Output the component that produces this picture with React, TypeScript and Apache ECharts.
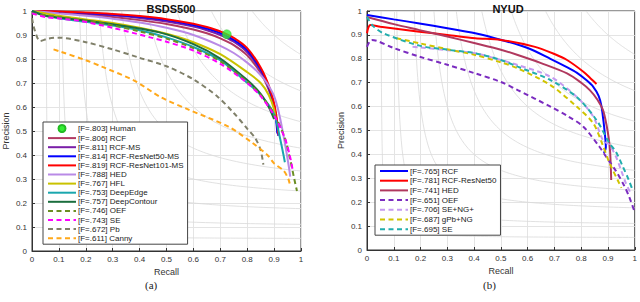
import React, { useEffect, useRef } from "react";
import * as echarts from "echarts";

// iso-F contour levels (grey guide curves)
const F_LEVELS = [0.1, 0.2, 0.3, 0.4, 0.5, 0.6, 0.7, 0.8, 0.9];

// ---------------- BSDS500 (Recall, Precision) ----------------
const bsdsHuman = [[0.724, 0.903]];
const bsdsRCF = [[0, 1], [0.1, 0.993], [0.2, 0.985], [0.3, 0.975], [0.4, 0.962], [0.5, 0.946], [0.6, 0.923], [0.65, 0.907], [0.7, 0.886], [0.75, 0.858], [0.8, 0.815], [0.85, 0.742], [0.88, 0.672], [0.9, 0.6], [0.91, 0.54], [0.915, 0.49]];
const bsdsRCFMS = [[0, 1], [0.1, 0.996], [0.2, 0.99], [0.3, 0.982], [0.4, 0.971], [0.5, 0.956], [0.6, 0.935], [0.65, 0.92], [0.7, 0.9], [0.75, 0.872], [0.8, 0.828], [0.85, 0.752], [0.88, 0.68], [0.9, 0.605], [0.91, 0.535], [0.915, 0.48]];
const bsdsRes50MS = [[0, 1], [0.1, 0.997], [0.2, 0.992], [0.3, 0.985], [0.4, 0.976], [0.5, 0.962], [0.6, 0.942], [0.65, 0.927], [0.7, 0.908], [0.75, 0.88], [0.8, 0.837], [0.85, 0.758], [0.88, 0.685], [0.9, 0.605], [0.908, 0.54], [0.912, 0.49]];
const bsdsRes101MS = [[0, 1], [0.1, 0.998], [0.2, 0.994], [0.3, 0.988], [0.4, 0.979], [0.5, 0.966], [0.6, 0.947], [0.65, 0.933], [0.7, 0.915], [0.75, 0.888], [0.8, 0.845], [0.85, 0.765], [0.88, 0.69], [0.9, 0.615], [0.91, 0.55], [0.915, 0.49]];
const bsdsHED = [[0, 1], [0.1, 0.99], [0.2, 0.98], [0.3, 0.968], [0.4, 0.952], [0.5, 0.93], [0.6, 0.9], [0.7, 0.855], [0.75, 0.825], [0.8, 0.785], [0.84, 0.745], [0.87, 0.705], [0.9, 0.645], [0.92, 0.565], [0.94, 0.45], [0.955, 0.35], [0.96, 0.31]];
const bsdsHFL = [[0, 1], [0.1, 0.98], [0.2, 0.965], [0.3, 0.95], [0.4, 0.93], [0.5, 0.905], [0.6, 0.87], [0.7, 0.82], [0.8, 0.745], [0.85, 0.7], [0.88, 0.65], [0.9, 0.59], [0.905, 0.55]];
const bsdsDeepEdge = [[0, 1], [0.05, 0.98], [0.1, 0.97], [0.2, 0.955], [0.3, 0.94], [0.4, 0.92], [0.5, 0.89], [0.6, 0.85], [0.7, 0.795], [0.79, 0.71], [0.85, 0.65], [0.9, 0.57], [0.92, 0.48], [0.935, 0.4], [0.94, 0.37]];
const bsdsDeepContour = [[0, 1], [0.05, 0.98], [0.14, 0.968], [0.3, 0.945], [0.47, 0.912], [0.6, 0.862], [0.7, 0.802], [0.8, 0.712], [0.85, 0.655], [0.88, 0.6], [0.9, 0.55]];
const bsdsOEF = [[0, 0.99], [0.1, 0.975], [0.2, 0.96], [0.3, 0.94], [0.4, 0.915], [0.5, 0.885], [0.6, 0.845], [0.7, 0.79], [0.8, 0.705], [0.85, 0.65], [0.9, 0.57], [0.94, 0.47], [0.96, 0.38], [0.975, 0.3], [0.985, 0.25]];
const bsdsSE = [[0, 0.99], [0.05, 0.975], [0.17, 0.96], [0.3, 0.93], [0.44, 0.89], [0.5, 0.872], [0.6, 0.835], [0.7, 0.78], [0.8, 0.7], [0.85, 0.645], [0.9, 0.565], [0.94, 0.47], [0.96, 0.39], [0.97, 0.33]];
const bsdsPb = [[0, 0.97], [0.01, 0.92], [0.03, 0.875], [0.06, 0.885], [0.1, 0.889], [0.2, 0.87], [0.3, 0.84], [0.4, 0.805], [0.5, 0.77], [0.6, 0.715], [0.69, 0.643], [0.75, 0.575], [0.8, 0.51], [0.83, 0.47], [0.85, 0.42], [0.86, 0.36]];
const bsdsCanny = [[0.08, 0.84], [0.107, 0.83], [0.2, 0.795], [0.26, 0.768], [0.38, 0.71], [0.48, 0.64], [0.58, 0.59], [0.73, 0.518], [0.82, 0.45], [0.875, 0.4], [0.9, 0.365], [0.935, 0.335], [0.953, 0.3], [0.96, 0.27]];

// ---------------- NYUD (Recall, Precision) ----------------
const nyudRCF = [[0, 0.983], [0.1, 0.965], [0.196, 0.948], [0.3, 0.928], [0.404, 0.907], [0.502, 0.879], [0.6, 0.845], [0.685, 0.8], [0.75, 0.763], [0.783, 0.742], [0.82, 0.71], [0.845, 0.683], [0.865, 0.645], [0.875, 0.605], [0.883, 0.54], [0.888, 0.488], [0.892, 0.43], [0.885, 0.405]];
const nyudRes50 = [[0, 0.907], [0.005, 0.93], [0.012, 0.941], [0.05, 0.934], [0.196, 0.913], [0.3, 0.9], [0.404, 0.886], [0.5, 0.879], [0.624, 0.851], [0.7, 0.82], [0.747, 0.795], [0.808, 0.746], [0.835, 0.718], [0.857, 0.695]];
const nyudHED = [[0, 0.975], [0.1, 0.945], [0.196, 0.92], [0.3, 0.893], [0.404, 0.865], [0.5, 0.838], [0.563, 0.816], [0.65, 0.782], [0.747, 0.739], [0.8, 0.7], [0.832, 0.669], [0.86, 0.63], [0.881, 0.586], [0.895, 0.52], [0.903, 0.465], [0.908, 0.41], [0.912, 0.293]];
const nyudOEF = [[0, 0.85], [0.018, 0.879], [0.1, 0.845], [0.196, 0.809], [0.3, 0.775], [0.404, 0.739], [0.5, 0.703], [0.563, 0.669], [0.685, 0.6], [0.75, 0.56], [0.808, 0.516], [0.868, 0.432], [0.893, 0.39], [0.93, 0.33], [0.96, 0.27], [0.979, 0.223], [0.997, 0.167]];
const nyudSENG = [[0.17, 0.85], [0.196, 0.848], [0.3, 0.836], [0.404, 0.823], [0.5, 0.795], [0.563, 0.774], [0.685, 0.725], [0.783, 0.641], [0.845, 0.558], [0.881, 0.46], [0.905, 0.44], [0.93, 0.39], [0.95, 0.33], [0.967, 0.279], [0.985, 0.237]];
const nyudGPbNG = [[0.11, 0.886], [0.196, 0.865], [0.3, 0.84], [0.404, 0.816], [0.5, 0.785], [0.563, 0.76], [0.685, 0.69], [0.783, 0.6], [0.845, 0.53], [0.88, 0.44], [0.906, 0.363], [0.942, 0.279], [0.95, 0.26]];
const nyudSE = [[0, 0.976], [0.02, 0.94], [0.061, 0.907], [0.196, 0.855], [0.3, 0.838], [0.404, 0.823], [0.5, 0.795], [0.563, 0.767], [0.685, 0.711], [0.783, 0.64], [0.857, 0.544], [0.906, 0.446], [0.93, 0.41], [0.955, 0.35], [0.975, 0.3], [0.992, 0.251]];

const AXIS_FONT = "Liberation Sans";

function isoCurve(f: number) {
  const r0 = f / (2 - f);
  const pts: number[][] = [];
  for (let i = 0; i <= 80; i++) {
    const t = i / 80;
    const r = r0 + (1 - r0) * t * t;
    pts.push([r, (f * r) / (2 * r - f)]);
  }
  return pts;
}

function lineSeries(name: string, data: number[][], color: string, dashed: boolean, idx: number, width = 2) {
  return {
    type: "line",
    name,
    data,
    xAxisIndex: idx,
    yAxisIndex: idx,
    symbol: "none",
    smooth: 0.3,
    z: 3,
    lineStyle: { color, width, type: dashed ? [5, 3.5] : "solid" },
    itemStyle: { color },
  };
}

function axisPair(idx: number, left: number) {
  const fmt = (v: number) => String(+v.toFixed(1));
  const common = {
    type: "value",
    min: 0,
    max: 1,
    interval: 0.1,
    gridIndex: idx,
    axisLine: { show: true, lineStyle: { color: "#333", width: 1 } },
    axisTick: { show: true, inside: true, length: 3, lineStyle: { color: "#333" } },
    splitLine: { show: true, lineStyle: { color: "#e4e4e4", width: 1 } },
    axisLabel: { formatter: fmt, fontSize: 8, fontFamily: AXIS_FONT, color: "#333" },
    nameTextStyle: { fontSize: 9, fontFamily: AXIS_FONT, color: "#333" },
  };
  return {
    x: { ...common, name: "Recall", nameLocation: "middle", nameGap: 14, axisLabel: { ...common.axisLabel, margin: 4 } },
    y: { ...common, name: "Precision", nameLocation: "middle", nameGap: left, nameRotate: 90, axisLabel: { ...common.axisLabel, margin: 5 } },
  };
}

export default function App() {
  const ref = useRef<HTMLDivElement>(null);
  useEffect(() => {
    if (!ref.current) return;
    const chart = echarts.init(ref.current, null, { renderer: "svg" });
    const a0 = axisPair(0, 22);
    const a1 = axisPair(1, 22);

    const isoSeries: any[] = [];
    [0, 1].forEach((g) => {
      F_LEVELS.forEach((f) => {
        isoSeries.push({
          type: "line",
          data: isoCurve(f),
          xAxisIndex: g,
          yAxisIndex: g,
          symbol: "none",
          silent: true,
          z: 1,
          lineStyle: { color: "#d9d9d9", width: 0.8 },
        });
      });
    });

    const left = [
      lineSeries("[F=.806] RCF", bsdsRCF, "#b23a62", false, 0),
      lineSeries("[F=.811] RCF-MS", bsdsRCFMS, "#7a1ea8", false, 0),
      lineSeries("[F=.814] RCF-ResNet50-MS", bsdsRes50MS, "#0000ff", false, 0),
      lineSeries("[F=.819] RCF-ResNet101-MS", bsdsRes101MS, "#ff0000", false, 0),
      lineSeries("[F=.788] HED", bsdsHED, "#b98ae6", false, 0),
      lineSeries("[F=.767] HFL", bsdsHFL, "#c9c200", false, 0),
      lineSeries("[F=.753] DeepEdge", bsdsDeepEdge, "#1aa7ae", false, 0),
      lineSeries("[F=.757] DeepContour", bsdsDeepContour, "#1b6e3e", false, 0),
      lineSeries("[F=.746] OEF", bsdsOEF, "#6b8e23", true, 0),
      lineSeries("[F=.743] SE", bsdsSE, "#ff00ff", true, 0),
      lineSeries("[F=.672] Pb", bsdsPb, "#80806a", true, 0),
      lineSeries("[F=.611] Canny", bsdsCanny, "#ffa81a", true, 0),
    ];
    const right = [
      lineSeries("[F=.765] RCF", nyudRCF, "#0000ff", false, 1),
      lineSeries("[F=.781] RCF-ResNet50", nyudRes50, "#ff0000", false, 1),
      lineSeries("[F=.741] HED", nyudHED, "#b0385e", false, 1),
      lineSeries("[F=.651] OEF", nyudOEF, "#7b2cc0", true, 1),
      lineSeries("[F=.706] SE+NG+", nyudSENG, "#c59af0", true, 1),
      lineSeries("[F=.687] gPb+NG", nyudGPbNG, "#d0c400", true, 1),
      lineSeries("[F=.695] SE", nyudSE, "#22adad", true, 1),
    ];
    const human = {
      type: "scatter",
      name: "[F=.803] Human",
      data: bsdsHuman,
      xAxisIndex: 0,
      yAxisIndex: 0,
      symbol: "circle",
      symbolSize: 9,
      z: 5,
      itemStyle: { color: "#33ee33", borderColor: "#22bb22", borderWidth: 0.5 },
    };

    const legendCommon = {
      orient: "vertical",
      backgroundColor: "#ffffff",
      borderColor: "#444",
      borderWidth: 1,
      borderRadius: 0,
      itemWidth: 28,
      itemHeight: 7,
      itemGap: 1.1,
      padding: [2, 4, 2, 4],
      selectedMode: false,
      itemStyle: { opacity: 0 },
      textStyle: { fontSize: 8, fontFamily: AXIS_FONT, color: "#222", padding: [0, 0, 0, -3], lineHeight: 8 },
    };

    chart.setOption({
      animation: false,
      backgroundColor: "#ffffff",
      title: [
        { text: "BSDS500", left: 166, top: -2, textAlign: "center", textStyle: { fontSize: 11, fontWeight: "bold", fontFamily: AXIS_FONT, color: "#111" } },
        { text: "NYUD", left: 503, top: -2, textAlign: "center", textStyle: { fontSize: 11, fontWeight: "bold", fontFamily: AXIS_FONT, color: "#111" } },
      ],
      grid: [
        { left: 29, top: 11, width: 272, height: 240, show: true, borderColor: "#333", borderWidth: 1 },
        { left: 367, top: 11, width: 272, height: 239, show: true, borderColor: "#333", borderWidth: 1 },
      ],
      xAxis: [a0.x, a1.x],
      yAxis: [a0.y, a1.y],
      legend: [
        {
          ...legendCommon,
          left: 43,
          top: 122,
          data: [
            { name: "[F=.803] Human", itemStyle: { opacity: 1 } },
            ...left.map((s) => s.name),
          ],
        },
        {
          ...legendCommon,
          left: 375,
          top: 165,
          itemGap: 1.7,
          data: right.map((s) => s.name),
        },
      ],
      graphic: [
        { type: "text", left: 145, top: 279, style: { text: "(a)", fontSize: 11, fontFamily: "Liberation Serif", fill: "#222" } },
        { type: "text", left: 483, top: 279, style: { text: "(b)", fontSize: 11, fontFamily: "Liberation Serif", fill: "#222" } },
      ],
      series: [...isoSeries, human, ...left, ...right],
    });
    return () => chart.dispose();
  }, []);
  return <div ref={ref} style={{ position: "fixed", left: 0, top: 0, width: 640, height: 302 }} />;
}
